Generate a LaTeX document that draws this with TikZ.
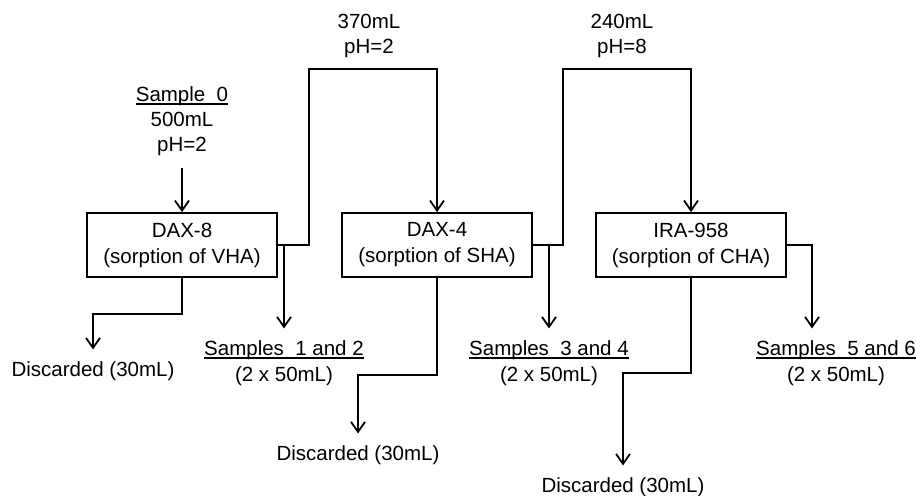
\documentclass[tikz,border=0pt]{standalone}
\usepackage{fontspec}
\setmainfont{Liberation Sans}
\usetikzlibrary{arrows.meta}
\usetikzlibrary{positioning}
\newcommand{\uln}[1]{\setbox0\hbox{#1}\rlap{\rule[-1.6pt]{\wd0}{0.6pt}}\box0}

\begin{document}
\begin{tikzpicture}[x=0.5pt,y=-0.5pt]
\tikzset{column/.style={rectangle,draw,line width=0.9pt,minimum width=95pt,minimum height=32pt,align=center,font=\fontsize{10.25}{13}\selectfont}}
\tikzset{lbl/.style={align=center,inner sep=0pt,outer sep=6pt,font=\fontsize{10.25}{12.5}\selectfont}}
\tikzset{flow/.style={line width=0.9pt,-{Straight Barb[length=5pt,width=7pt]}}}
\useasboundingbox (0,0) rectangle (916,495);
% columns
\node[column](dax8) at (182,245){DAX-8\\(sorption of VHA)};
\node[column](dax4) at (437,245){DAX-4\\(sorption of SHA)};
\node[column](ira) at (691,245){IRA-958\\(sorption of CHA)};
% feed and eluates
\node[lbl](s0) at (182,121){\uln{Sample\ \ 0}\\500mL\\pH=2};
\node[lbl](f2) at (369,36){370mL\\pH=2};
\node[lbl](f3) at (622,36){240mL\\pH=8};
\node[lbl,font=\fontsize{10.25}{13}\selectfont](s12) at (284,363){\uln{Samples\ \ 1 and 2}\\(2 x 50mL)};
\node[lbl,font=\fontsize{10.25}{13}\selectfont](s34) at (549,363){\uln{Samples\ \ 3 and 4}\\(2 x 50mL)};
\node[lbl,font=\fontsize{10.25}{13}\selectfont](s56) at (836,363){\uln{Samples\ \ 5 and 6}\\(2 x 50mL)};
\node[lbl](d1) at (93,371){Discarded (30mL)};
\node[lbl](d2) at (358,455){Discarded (30mL)};
\node[lbl](d3) at (623,487){Discarded (30mL)};
% connectors
\draw[flow](s0) -- (dax8);
\draw[flow](dax8.east) -| (309,69) -| (dax4.north);
\draw[flow](dax4.east) -| (563,69) -| (ira.north);
\draw[flow](dax8.east -| s12.north) -- (s12.north);
\draw[flow](dax4.east -| s34.north) -- (s34.north);
\draw[flow](ira.east) -| ([xshift=-12pt]s56.north);
\draw[flow](dax8.south) -- ++(0,36) -| (d1.north);
\draw[flow](dax4.south) -- ++(0,97) -| (d2.north);
\draw[flow](ira.south) -- ++(0,95) -| (d3.north);
\end{tikzpicture}
\end{document}
